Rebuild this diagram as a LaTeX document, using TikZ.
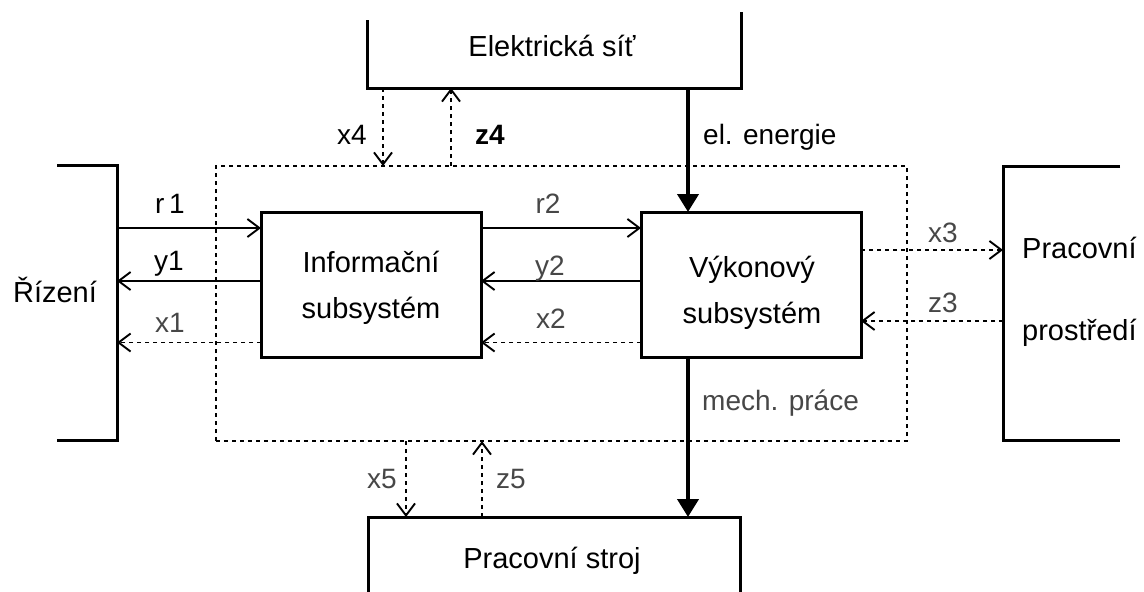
\documentclass[tikz,border=0pt]{standalone}
\usepackage{fontspec}
\setmainfont{Liberation Sans}
\usetikzlibrary{arrows.meta}
\begin{document}
\begin{tikzpicture}[x=1pt,y=-1pt,
  % outlines of the blocks
  area/.style={inner sep=0pt, outer sep=0pt, minimum width=#1},
  block/.style={draw, line width=3pt, inner sep=0pt, outer sep=0pt},
  rim/.style={line width=3pt},
  system/.style={draw, dashed, dash pattern=on 4pt off 4pt, line width=1.2pt, inner sep=0pt, outer sep=0pt},
  % texts
  txt/.style={font=\fontsize{29}{32}\selectfont, anchor=base, inner sep=0pt},
  sig/.style={font=\fontsize{28}{30}\selectfont, anchor=base, inner sep=0pt},
  faint/.style={sig, text=black!72},
  % connectors
  flow/.style={line width=1.3pt, -{Straight Barb[length=12pt,width=18pt,line width=1.9pt]}},
  aux/.style={flow, dash pattern=on 4pt off 4pt},
  power/.style={line width=4pt, -{Triangle[length=18pt,width=21pt]}}]
\useasboundingbox (0,0) rectangle (1144,592);

% blocks
\node[system, minimum width=691pt, minimum height=275pt] (subsys) at (561.5,303.5) {};
\node[block, minimum width=220pt, minimum height=145pt] (info) at (371,284.5) {};
\node[block, minimum width=220pt, minimum height=145pt] (vykon) at (751,284.5) {};

% surroundings (open frames)
\node[area=60pt, minimum height=275pt] (rizeni) at (87,302.5) {};
\node[area=117pt, minimum height=274pt] (prostredi) at (1061.5,303) {};
\node[area=374pt, minimum height=76pt] (sit) at (554,50) {};
\node[area=372pt, minimum height=83pt] (stroj) at (554,558.5) {};

\draw[rim] (rizeni.north west) -- (rizeni.north east) -- (rizeni.south east) -- (rizeni.south west);
\draw[rim] (prostredi.north east) -- (prostredi.north west) -- (prostredi.south west) -- (prostredi.south east);
\draw[rim] ([yshift=-8pt]sit.north west) -- (sit.south west) -- (sit.south east) -- (sit.north east);
\draw[rim] (stroj.south west) -- (stroj.north west) -- (stroj.north east) -- (stroj.south east);

% rows and columns of the signal lines
\coordinate (rowR) at (0,228);
\coordinate (rowY) at (0,281);
\coordinate (rowX) at (0,342.5);
\coordinate (rowX3) at (0,250);
\coordinate (rowZ3) at (0,321);
\coordinate (colX4) at (383,0);
\coordinate (colZ4) at (451,0);
\coordinate (colE) at (688,0);
\coordinate (colX5) at (406,0);
\coordinate (colZ5) at (482,0);

% signal connectors
\draw[flow] (rizeni.east |- rowR) -- (info.west |- rowR);
\draw[flow] (info.west |- rowY) -- (rizeni.east |- rowY);
\draw[aux] (info.west |- rowX) -- (rizeni.east |- rowX);
\draw[flow] (info.east |- rowR) -- (vykon.west |- rowR);
\draw[flow] (vykon.west |- rowY) -- (info.east |- rowY);
\draw[aux] (vykon.west |- rowX) -- (info.east |- rowX);
\draw[aux] (vykon.east |- rowX3) -- (prostredi.west |- rowX3);
\draw[aux] (prostredi.west |- rowZ3) -- (vykon.east |- rowZ3);
\draw[aux] (sit.south -| colX4) -- (subsys.north -| colX4);
\draw[aux] (subsys.north -| colZ4) -- (sit.south -| colZ4);
\draw[aux] (subsys.south -| colX5) -- (stroj.north -| colX5);
\draw[aux] (stroj.north -| colZ5) -- (subsys.south -| colZ5);

% energy flows
\draw[power] (sit.south -| colE) -- (vykon.north -| colE);
\draw[power] (vykon.south -| colE) -- (stroj.north -| colE);

% block texts
\node[txt] (tRizeni) at (55,302) {Řízení};
\node[txt] (tSit) at (552,56) {Elektrická síť};
\node[txt] (tInfo1) at (371,272) {Informační};
\node[txt] (tInfo2) at (371,318) {subsystém};
\node[txt] (tVyk1) at (752,277) {Výkonový};
\node[txt] (tVyk2) at (752,323) {subsystém};
\node[txt, anchor=base west] (tProst1) at (1022,258) {Pracovní};
\node[txt, anchor=base west] (tProst2) at (1022,340) {prostředí};
\node[txt] (tStroj) at (552,568) {Pracovní stroj};

% signal labels
\node[sig] (lR1) at (170,213) {r\,1};
\node[sig] (lY1) at (169,270) {y1};
\node[faint] (lX1) at (170,332) {x1};
\node[faint] (lR2) at (548,213) {r2};
\node[faint] (lY2) at (550,275) {y2};
\node[faint] (lX2) at (551,328) {x2};
\node[faint] (lX3) at (943,242) {x3};
\node[faint] (lZ3) at (943,312) {z3};
\node[sig] (lX4) at (352,144) {x4};
\node[sig, font=\fontsize{28}{30}\selectfont\bfseries] (lZ4) at (490,144) {z4};
\node[sig, anchor=base west] (lE) at (703,144) {el. energie};
\node[faint, anchor=base west] (lM) at (702,410) {mech. práce};
\node[faint] (lX5) at (382,488) {x5};
\node[faint] (lZ5) at (511,488) {z5};
\end{tikzpicture}
\end{document}
